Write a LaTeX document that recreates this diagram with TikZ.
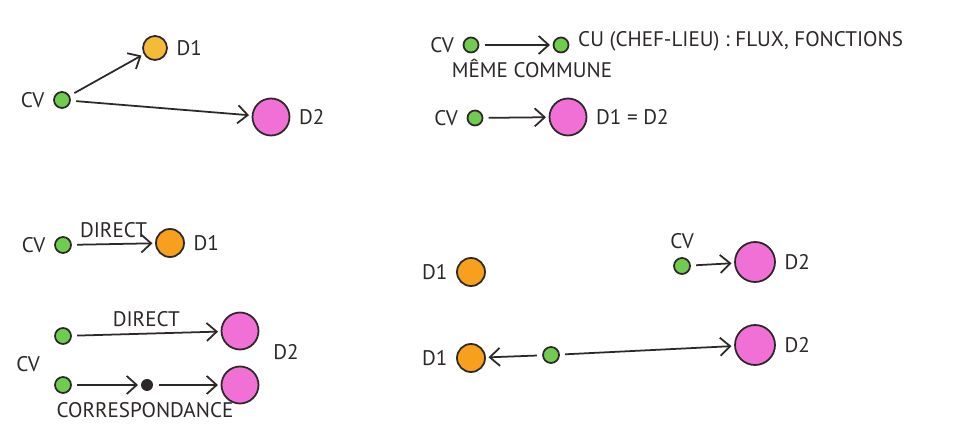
\documentclass[tikz,border=0pt]{standalone}
\usepackage{fontspec}
\setmainfont{PT Sans}
\usepackage{xcolor}
\usetikzlibrary{arrows.meta}

\definecolor{cvgreen}{RGB}{112,204,80}
\definecolor{dorange}{RGB}{246,160,30}
\definecolor{dyellow}{RGB}{244,186,56}
\definecolor{dpink}{RGB}{240,112,214}
\definecolor{ink}{RGB}{45,40,40}

\tikzset{
  cv/.style={circle, draw=ink, fill=cvgreen, line width=1pt, minimum size=3.2mm, inner sep=0pt},
  dest one/.style={circle, draw=ink, fill=dorange, line width=1pt, minimum size=5.6mm, inner sep=0pt},
  dest two/.style={circle, draw=ink, fill=dpink, line width=1pt, minimum size=7.4mm, inner sep=0pt},
  hop/.style={circle, fill=ink, minimum size=2.4mm, inner sep=0pt},
  flow/.style={-{Straight Barb[length=2mm, width=3.6mm]}, draw=ink, line width=1pt, shorten >=1.5pt, shorten <=3pt},
  txt/.style={text=ink, font=\fontsize{12}{14}\selectfont},
}

\begin{document}
\begin{tikzpicture}[x=0.2mm, y=-0.2mm, every label/.style={txt}, label distance=0.5mm]
        \useasboundingbox (0, 0) rectangle (961, 424);

        \node (a cv) [cv, label=left:CV] at (62, 100) {};
        \node (a d1) [dest one, fill=dyellow, minimum size=4.8mm, label=right:D1] at (155, 48) {};
        \node (a d2) [dest two, label=right:D2] at (271, 117) {};
        \draw [flow] (a cv) -- (a d1);
        \draw [flow] (a cv) -- (a d2);

        \node (b cv) [cv, minimum size=3mm, label=left:CV] at (471, 45) {};
        \node (b cu) [cv, minimum size=3mm] at (561, 45) {};
        \node (b cu txt) [txt, anchor=west] at (572, 41) {CU (CHEF-LIEU) : FLUX, FONCTIONS};
        \node (b commune) [txt] at (532, 68) {MÊME COMMUNE};
        \draw [flow] (b cv) -- (b cu);

        \node (c cv) [cv, minimum size=3mm, label=left:CV] at (475, 118) {};
        \node (c d) [dest two, label={right:D1 = D2}] at (568, 117) {};
        \draw [flow] (c cv) -- (c d);

        \node (e cv) [cv, label=left:CV] at (63, 245) {};
        \node (e d1) [dest one, label=right:D1] at (170, 243) {};
        \draw [flow] (e cv) -- node (e direct) [txt, above] {DIRECT} (e d1);

        \node (f cv one) [cv] at (63, 336) {};
        \node (f cv two) [cv] at (63, 385) {};
        \node (f cv txt) [txt] at (28, 364) {CV};
        \node (f d2 one) [dest two] at (240, 331) {};
        \node (f d2 two) [dest two] at (240, 385) {};
        \node (f d2 txt) [txt] at (286, 352) {D2};
        \node (f hop) [hop] at (147, 385) {};
        \node (f corr) [txt] at (145, 410) {CORRESPONDANCE};
        \draw [flow] (f cv one) -- node (f direct) [txt, above] {DIRECT} (f d2 one);
        \draw [flow] (f cv two) -- (f hop);
        \draw [flow] (f hop) -- (f d2 two);

        \node (g d1) [dest one, label=left:D1] at (471, 272) {};
        \node (g cv) [cv, label=above:CV] at (682, 266) {};
        \node (g d2) [dest two, minimum size=8mm, label=right:D2] at (755, 262) {};
        \draw [flow] (g cv) -- (g d2);

        \node (h d1) [dest one, label=left:D1] at (471, 358) {};
        \node (h cv) [cv] at (551, 355) {};
        \node (h d2) [dest two, minimum size=8mm, label=right:D2] at (755, 345) {};
        \draw [flow] (h cv) -- (h d1);
        \draw [flow] (h cv) -- (h d2);
    \end{tikzpicture}
\end{document}
